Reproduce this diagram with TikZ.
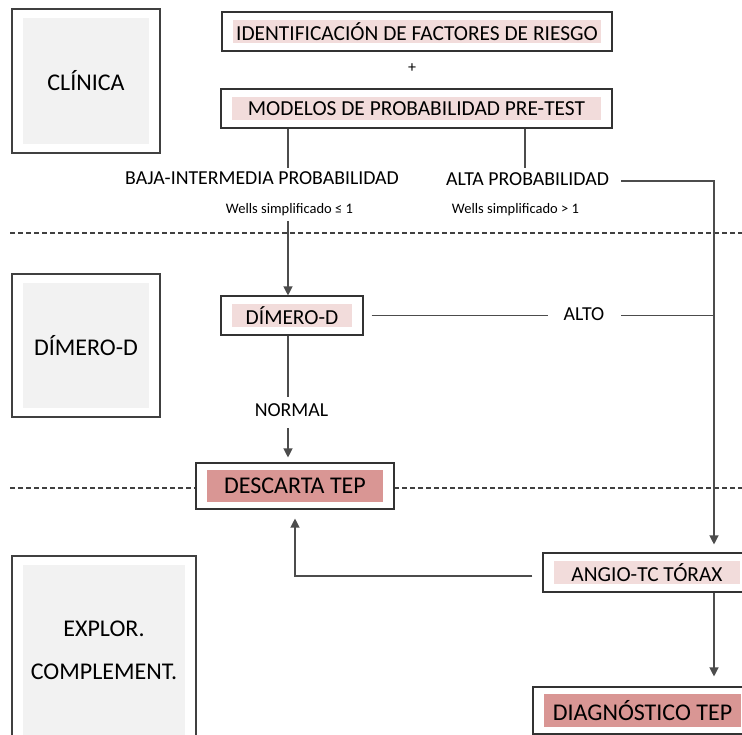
\documentclass[tikz,border=0pt]{standalone}
\usepackage{fontspec}
\setmainfont{Carlito}
\usepackage{tikz}
\usetikzlibrary{calc,arrows.meta}
\definecolor{rosa}{RGB}{242,220,219}
\definecolor{rosaosc}{RGB}{217,150,148}
\definecolor{gris}{RGB}{242,242,242}
\tikzset{
   inset/.style n args={3}{path picture={\fill[#1] ($(path picture bounding box.south west)+(#2,#3)$) rectangle ($(path picture bounding box.north east)-(#2,#3)$);}},
   sidebox/.style={draw=black!75, fill=white, line width=1.1pt, minimum width=148pt, inner sep=0pt,
                   align=center, font=\fontsize{24}{43}\selectfont, inset={gris}{11pt}{9pt}},
   flowbox/.style={draw=black!80, fill=white, line width=1.1pt, minimum height=39pt, inner sep=0pt,
                   font=\fontsize{21.4}{25}\selectfont, inset={rosa}{11pt}{8pt}},
   resultbox/.style={draw=black!80, fill=white, line width=1.1pt, minimum height=46pt, inner sep=0pt,
                   font=\fontsize{24}{29}\selectfont, inset={rosaosc}{11pt}{7pt}},
   branchtext/.style={inner sep=0pt, anchor=base, font=\fontsize{19.8}{23}\selectfont},
   smalltext/.style={inner sep=0pt, anchor=base, font=\fontsize{14.5}{17}\selectfont},
   conn/.style={draw=black!70, line width=1.2pt},
   arr/.style={conn, -{Triangle[width=9pt,length=9pt]}},
   divider/.style={draw=black!75, line width=1.1pt, dash pattern=on 5pt off 3pt}
}
\begin{document}
\begin{tikzpicture}[x=1pt,y=-1pt]
  \useasboundingbox (0,0) rectangle (742,735);
  \clip (0,0) rectangle (742,735);
  \draw[divider] (10,233) -- (742,233);
  \draw[divider] (10,488) -- (742,488);

  \node[sidebox, minimum height=144pt] (clinica) at (86,81) {CLÍNICA};
  \node[sidebox, minimum height=143pt] (dimerolado) at (86,345.5) {DÍMERO-D};
  \node[sidebox, minimum width=184pt, minimum height=189pt] (explor) at (104,650.5) {EXPLOR.\\COMPLEMENT.};

  \node[flowbox, minimum width=390pt] (factores) at (417,31.5) {IDENTIFICACIÓN DE FACTORES DE RIESGO};
  \node[font=\fontsize{16}{19}\selectfont] (mas) at (412,68) {+};
  \node[flowbox, minimum width=391pt] (modelos) at (416.5,108.5) {MODELOS DE PROBABILIDAD PRE-TEST};
  \node[branchtext] (baja) at (262,185) {BAJA-INTERMEDIA PROBABILIDAD};
  \node[smalltext] (wellsbaja) at (289.5,214) {Wells simplificado ≤ 1};
  \node[branchtext] (alta) at (527.5,186) {ALTA PROBABILIDAD};
  \node[smalltext] (wellsalta) at (515.5,214) {Wells simplificado > 1};
  \node[flowbox, minimum width=142pt] (dimero) at (292,315.5) {DÍMERO-D};
  \node[branchtext] (alto) at (584,321) {ALTO};
  \node[branchtext] (normal) at (291.5,417) {NORMAL};
  \node[resultbox, minimum width=198pt] (descarta) at (295,486) {DESCARTA TEP};
  \node[flowbox, minimum width=208pt] (angio) at (647,572.5) {ANGIO-TC TÓRAX};
  \node[resultbox, minimum width=219pt, minimum height=47pt] (diag) at (642.5,710.5) {DIAGNÓSTICO TEP};

  \coordinate (bajaup) at (288,168);
  \coordinate (altaup) at (525,168);
  \coordinate (bajadown) at (288,221);
  \coordinate (rail) at (714,181);

  \draw[conn] (modelos.south -| bajaup) -- (bajaup);
  \draw[conn] (modelos.south -| altaup) -- (altaup);
  \draw[arr] (bajadown) -- (dimero.north -| bajadown);
  \draw[arr, shorten <=12pt, shorten >=8pt] (alta.east |- rail) -- (rail) -- (rail |- angio.north);
  \draw[conn, shorten <=8pt, shorten >=16pt] (dimero.east) -- (dimero.east -| alto.west);
  \draw[conn, shorten <=17pt] (alto.east |- dimero.east) -- (dimero.east -| rail);
  \draw[conn, shorten >=7pt] (dimero.south -| bajaup) -- (normal.north -| bajaup);
  \draw[arr, shorten <=11pt, shorten >=5pt] (normal.south -| bajaup) -- (descarta.north -| bajaup);
  \draw[arr, shorten <=10pt, shorten >=9pt] ([yshift=-3.5pt]angio.west) -| (descarta.south);
  \draw[arr, shorten >=10pt] (angio.south -| rail) -- (diag.north -| rail);
\end{tikzpicture}
\end{document}
